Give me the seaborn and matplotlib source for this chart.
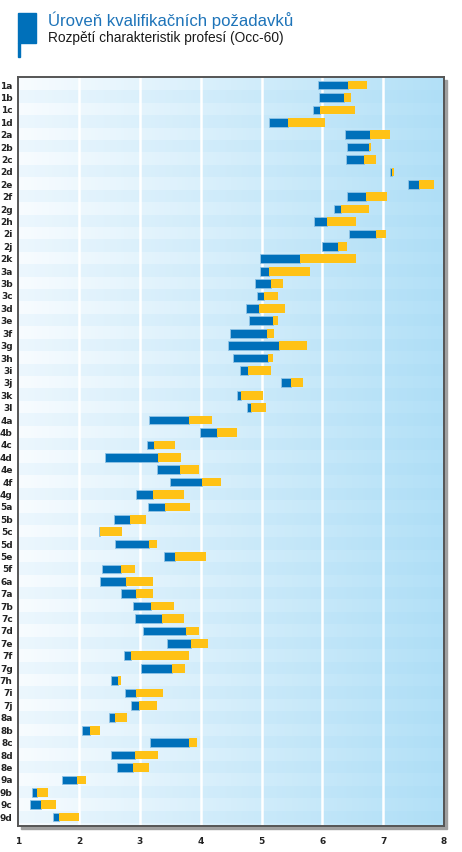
import numpy as np
import pandas as pd
import matplotlib
matplotlib.use("Agg")
import matplotlib.pyplot as plt
from matplotlib.patches import Rectangle
import seaborn as sns

# occupation codes (Occ-60)
codes = ["1a", "1b", "1c", "1d",
         "2a", "2b", "2c", "2d", "2e", "2f", "2g", "2h", "2i", "2j", "2k",
         "3a", "3b", "3c", "3d", "3e", "3f", "3g", "3h", "3i", "3j", "3k", "3l",
         "4a", "4b", "4c", "4d", "4e", "4f", "4g",
         "5a", "5b", "5c", "5d", "5e", "5f",
         "6a",
         "7a", "7b", "7c", "7d", "7e", "7f", "7g", "7h", "7i", "7j",
         "8a", "8b", "8c", "8d", "8e",
         "9a", "9b", "9c", "9d"]

# range start, middle (blue -> yellow switch), end
start = [5.93, 5.94, 5.85, 5.12,
         6.38, 6.41, 6.39, 7.12, 7.40, 6.41, 6.19, 5.86, 6.43, 5.99, 4.97,
         4.97, 4.89, 4.93, 4.74, 4.79, 4.48, 4.44, 4.53, 4.65, 5.32, 4.60, 4.76,
         3.15, 3.98, 3.11, 2.42, 3.28, 3.50, 2.93,
         3.13, 2.57, 2.32, 2.59, 3.39, 2.37,
         2.34,
         2.69, 2.88, 2.92, 3.05, 3.44, 2.74, 3.02, 2.52, 2.75, 2.85,
         2.49, 2.05, 3.16, 2.52, 2.62,
         1.72, 1.22, 1.19, 1.57]
middle = [6.42, 6.36, 5.96, 5.44,
          6.78, 6.76, 6.68, 7.14, 7.59, 6.72, 6.30, 6.07, 6.89, 6.25, 5.64,
          5.13, 5.15, 5.04, 4.95, 5.18, 5.09, 5.28, 5.10, 4.77, 5.49, 4.67, 4.83,
          3.80, 4.27, 3.23, 3.29, 3.66, 4.02, 3.21,
          3.42, 2.83, 2.34, 3.15, 3.58, 2.69,
          2.77,
          2.93, 3.19, 3.37, 3.75, 3.84, 2.86, 3.52, 2.64, 2.93, 2.98,
          2.59, 2.18, 3.80, 2.92, 2.89,
          1.97, 1.31, 1.37, 1.67]
end = [6.74, 6.47, 6.53, 6.04,
       7.12, 6.80, 6.88, 7.17, 7.83, 7.06, 6.77, 6.55, 7.04, 6.40, 6.55,
       5.79, 5.35, 5.27, 5.38, 5.27, 5.20, 5.74, 5.18, 5.15, 5.68, 5.03, 5.07,
       4.18, 4.59, 3.57, 3.67, 3.97, 4.33, 3.72,
       3.83, 3.10, 2.71, 3.28, 4.08, 2.92,
       3.21,
       3.21, 3.56, 3.72, 3.97, 4.12, 3.80, 3.74, 2.69, 3.38, 3.28,
       2.79, 2.35, 3.94, 3.29, 3.15,
       2.12, 1.49, 1.62, 2.00]

x_ticks = [1, 2, 3, 4, 5, 6, 7, 8]

title = "Úroveň kvalifikačních požadavků"
subtitle = "Rozpětí charakteristik profesí (Occ-60)"

BLUE = "#0070ba"
YELLOW = "#ffc216"
TITLE_BLUE = "#1e74b9"

df = pd.DataFrame({"code": codes, "start": start, "middle": middle, "end": end})
df["pos"] = np.arange(len(df))

sns.set_theme(style="white")
plt.rcParams["font.family"] = ["Liberation Sans Narrow", "DejaVu Sans"]

W, H = 462, 852
fig = plt.figure(figsize=(W / 100, H / 100), dpi=100)
ax_l, ax_r, ax_t, ax_b = 18.3, 444.0, 77.0, 826.0
ax = fig.add_axes([ax_l / W, 1 - ax_b / H, (ax_r - ax_l) / W, (ax_b - ax_t) / H])

n = len(df)
ylo, yhi = -0.65, n - 1 + 0.72

# background: horizontal gradient with alternating light-blue row bands
cols = 400
t = np.linspace(0, 1, cols)
left_c = np.array([248, 252, 255]) / 255
right_c = np.array([178, 224, 247]) / 255
grad = left_c[None, :] * (1 - t[:, None]) + right_c[None, :] * t[:, None]
band_c = np.array([150, 210, 242]) / 255
band = grad * 0.88 + band_c[None, :] * 0.12
img = np.stack([band if i % 2 == 1 else grad for i in range(n)], axis=0)
ax.imshow(img, extent=[1, 8, n - 0.5, -0.5], aspect="auto", zorder=0,
          interpolation="nearest")
ax.imshow(grad[None, :, :], extent=[1, 8, -0.5, ylo], aspect="auto", zorder=0)
ax.imshow(grad[None, :, :], extent=[1, 8, yhi, n - 0.5], aspect="auto", zorder=0)

for xv in x_ticks[1:-1]:
    ax.axvline(xv, color="white", lw=1.8, zorder=1)

bh = 0.7
ax.barh(df["pos"], df["middle"] - df["start"], left=df["start"], height=bh,
        color=BLUE, edgecolor="#8fc3e6", linewidth=0.6, zorder=3)
ax.barh(df["pos"], df["end"] - df["middle"], left=df["middle"], height=bh,
        color=YELLOW, edgecolor="none", zorder=3)

ax.set_xlim(1, 8)
ax.set_ylim(yhi, ylo)
ax.set_yticks(df["pos"])
ax.set_yticklabels(df["code"], fontsize=6.5, fontweight="bold", color="#222222")
ax.set_xticks(x_ticks)
ax.set_xticklabels([str(v) for v in x_ticks], fontsize=6.5, fontweight="bold",
                   color="#222222")
ax.tick_params(axis="y", length=0, pad=4)
ax.tick_params(axis="x", length=0, pad=8)
ax.set_xlabel("")
ax.set_ylabel("")
for s in ax.spines.values():
    s.set_color("#555555")
    s.set_linewidth(1.4)

# drop shadow of the frame
fig.patches.append(Rectangle(((ax_l + 3) / W, 1 - (ax_b + 3) / H),
                             (ax_r - ax_l) / W, (ax_b - ax_t) / H,
                             transform=fig.transFigure, color="#a0a0a0",
                             zorder=-1))

# title marker
fig.patches.append(Rectangle((18 / W, 1 - 43 / H), 18 / W, 30 / H,
                             transform=fig.transFigure, color=BLUE, zorder=2))
fig.patches.append(Rectangle((18 / W, 1 - 57 / H), 2 / W, 14 / H,
                             transform=fig.transFigure, color=BLUE, zorder=2))
fig.text(48 / W, 1 - 20 / H, title, fontsize=12.1, color=TITLE_BLUE,
         va="center", ha="left", family=["Liberation Sans", "DejaVu Sans"])
fig.text(48 / W, 1 - 38 / H, subtitle, fontsize=9.9, color="#1a1a1a",
         va="center", ha="left", family=["Liberation Sans", "DejaVu Sans"])

fig.savefig("out.png", dpi=100, facecolor="white")
